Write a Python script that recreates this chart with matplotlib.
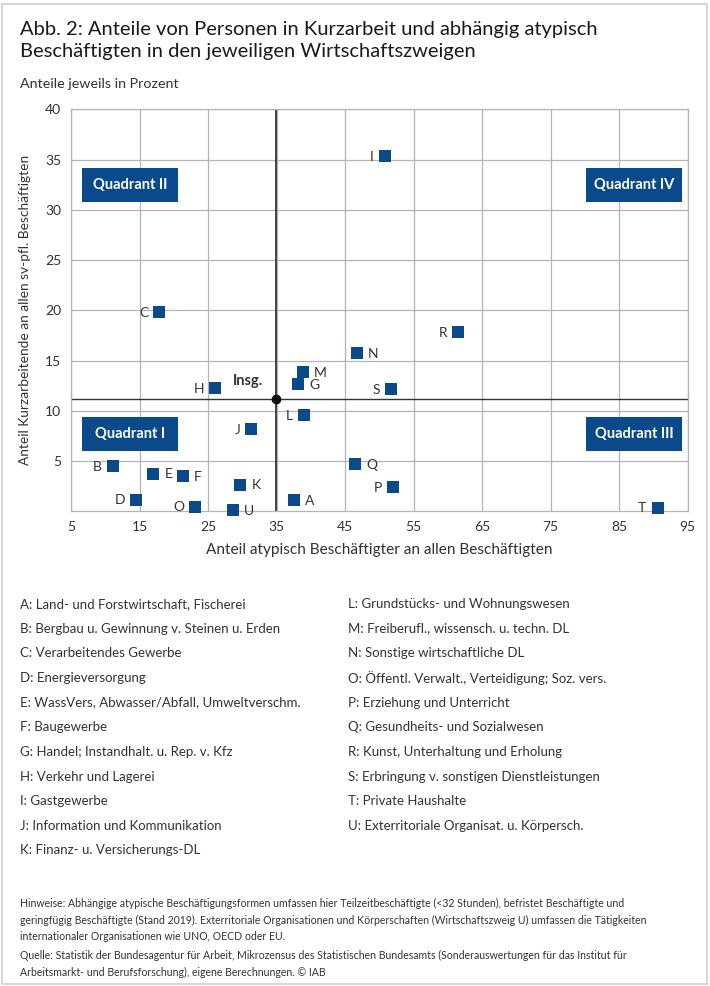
import matplotlib
matplotlib.use("Agg")
import matplotlib.pyplot as plt
from matplotlib.patches import Rectangle

plt.rcParams['font.family'] = ['Lato', 'DejaVu Sans']

# ---- data ----
codes = ["A", "B", "C", "D", "E", "F", "G", "H", "I", "J", "K",
         "L", "M", "N", "O", "P", "Q", "R", "S", "T", "U"]
atyp = [37.5, 11.1, 17.9, 14.5, 17.0, 21.3, 38.1, 26.0, 50.8, 31.3, 29.7,
        39.0, 38.8, 46.7, 23.1, 52.0, 46.5, 61.5, 51.7, 90.6, 28.6]
kurz = [1.1, 4.5, 19.8, 1.15, 3.75, 3.5, 12.65, 12.25, 35.35, 8.2, 2.65,
        9.6, 13.85, 15.75, 0.45, 2.4, 4.7, 17.85, 12.15, 0.35, 0.1]
label_side = ["r", "l", "l", "l", "r", "r", "r", "l", "l", "l", "r",
              "l", "r", "r", "l", "l", "r", "l", "l", "l", "r"]
total_x = 34.9
total_y = 11.2
total_label = "Insg."

names = [
    "Land- und Forstwirtschaft, Fischerei",
    "Bergbau u. Gewinnung v. Steinen u. Erden",
    "Verarbeitendes Gewerbe",
    "Energieversorgung",
    "WassVers, Abwasser/Abfall, Umweltverschm.",
    "Baugewerbe",
    "Handel; Instandhalt. u. Rep. v. Kfz",
    "Verkehr und Lagerei",
    "Gastgewerbe",
    "Information und Kommunikation",
    "Finanz- u. Versicherungs-DL",
    "Grundstücks- und Wohnungswesen",
    "Freiberufl., wissensch. u. techn. DL",
    "Sonstige wirtschaftliche DL",
    "Öffentl. Verwalt., Verteidigung; Soz. vers.",
    "Erziehung und Unterricht",
    "Gesundheits- und Sozialwesen",
    "Kunst, Unterhaltung und Erholung",
    "Erbringung v. sonstigen Dienstleistungen",
    "Private Haushalte",
    "Exterritoriale Organisat. u. Körpersch.",
]

x_ticks = [5, 15, 25, 35, 45, 55, 65, 75, 85, 95]
y_ticks = [5, 10, 15, 20, 25, 30, 35, 40]
quadrants = ["Quadrant I", "Quadrant II", "Quadrant III", "Quadrant IV"]

title_lines = ["Abb. 2: Anteile von Personen in Kurzarbeit und abhängig atypisch",
               "Beschäftigten in den jeweiligen Wirtschaftszweigen"]
subtitle = "Anteile jeweils in Prozent"
xlabel = "Anteil atypisch Beschäftigter an allen Beschäftigten"
ylabel = "Anteil Kurzarbeitende an allen sv-pfl. Beschäftigten"
note_lines = [
    "Hinweise: Abhängige atypische Beschäftigungsformen umfassen hier Teilzeitbeschäftigte (<32 Stunden), befristet Beschäftigte und",
    "geringfügig Beschäftigte (Stand 2019). Exterritoriale Organisationen und Körperschaften (Wirtschaftszweig U) umfassen die Tätigkeiten",
    "internationaler Organisationen wie UNO, OECD oder EU.",
    "Quelle: Statistik der Bundesagentur für Arbeit, Mikrozensus des Statistischen Bundesamts (Sonderauswertungen für das Institut für",
    "Arbeitsmarkt- und Berufsforschung), eigene Berechnungen. © IAB",
]

# ---- style ----
W, H = 710, 986
BLUE = "#0b4a8a"
TXT = "#333333"
GRID = "#b4b4b4"

fig = plt.figure(figsize=(W / 100, H / 100), dpi=100)

def fx(px):
    return px / W

def fy(py):
    return 1 - py / H

# outer border
fig.patches.append(Rectangle((fx(2), fy(984)), fx(705), 980 / H, transform=fig.transFigure,
                             fill=False, edgecolor="#cfcfcf", linewidth=1.2))

for py, line in zip([35, 57], title_lines):
    fig.text(fx(20), fy(py), line, ha="left", va="baseline", fontsize=14.5, color="#1a1a1a")
fig.text(fx(20), fy(87.5), subtitle, ha="left", va="baseline", fontsize=10.3, color=TXT)

ax = fig.add_axes([fx(71), fy(511.3), fx(616.7), 402 / H])
ax.set_xlim(5, 95)
ax.set_ylim(0, 40)
ax.set_xticks(x_ticks)
ax.set_yticks(y_ticks)
ax.tick_params(length=0, labelsize=10, labelcolor=TXT, pad=7)
ax.grid(True, color=GRID, linewidth=0.9)
ax.set_axisbelow(True)
for s in ax.spines.values():
    s.set_color(GRID)
    s.set_linewidth(0.9)

# reference lines through the total
ax.axvline(total_x, color="#111111", linewidth=1.1, zorder=2)
ax.axhline(total_y, color="#333333", linewidth=1.0, zorder=2, clip_on=False)
ax.plot([total_x], [total_y], marker="o", color="#111111", markersize=6, zorder=4)
ax.annotate(total_label, (total_x, total_y), xytext=(-9, 8), textcoords="offset points",
            ha="right", va="bottom", fontsize=10.5, fontweight="bold", color=TXT)

ax.scatter(atyp, kurz, marker="s", s=68, color=BLUE, zorder=5, linewidths=0, clip_on=False)
for c, x, y, side in zip(codes, atyp, kurz, label_side):
    off = 8 if side == "r" else -8
    ax.annotate(c, (x, y), xytext=(off, -0.5), textcoords="offset points",
                ha="left" if side == "r" else "right", va="center",
                fontsize=10, color=TXT, zorder=6)

ax.set_xlabel(xlabel, fontsize=11.1, color=TXT, labelpad=7)
ax.set_ylabel(ylabel, fontsize=9.9, color=TXT, labelpad=10)

# quadrant boxes (axes fraction)
boxes = {
    "Quadrant II": (0.0174, 0.7687),
    "Quadrant IV": (0.835, 0.7687),
    "Quadrant I": (0.0174, 0.1507),
    "Quadrant III": (0.835, 0.1507),
}
bw, bh = 0.1557, 0.0845
for q in quadrants:
    x0, y0 = boxes[q]
    ax.add_patch(Rectangle((x0, y0), bw, bh, transform=ax.transAxes, facecolor=BLUE,
                           edgecolor="none", zorder=3))
    ax.text(x0 + bw / 2, y0 + bh / 2, q, transform=ax.transAxes, ha="center", va="center",
            color="white", fontsize=10.5, fontweight="bold", zorder=4)

# legend list
row_y0 = 604
row_dy = 24.65
for i, (c, n) in enumerate(zip(codes, names)):
    if i < 11:
        px, py = 20, row_y0 + i * row_dy
    else:
        px, py = 348, row_y0 + (i - 11) * row_dy
    fig.text(fx(px), fy(py), f"{c}: {n}", ha="left", va="center", fontsize=9.5, color=TXT)

for py, line in zip([903, 920, 937, 955, 972], note_lines):
    fig.text(fx(20), fy(py), line, ha="left", va="center", fontsize=7.6, color=TXT)

fig.savefig("out.png", dpi=100)
